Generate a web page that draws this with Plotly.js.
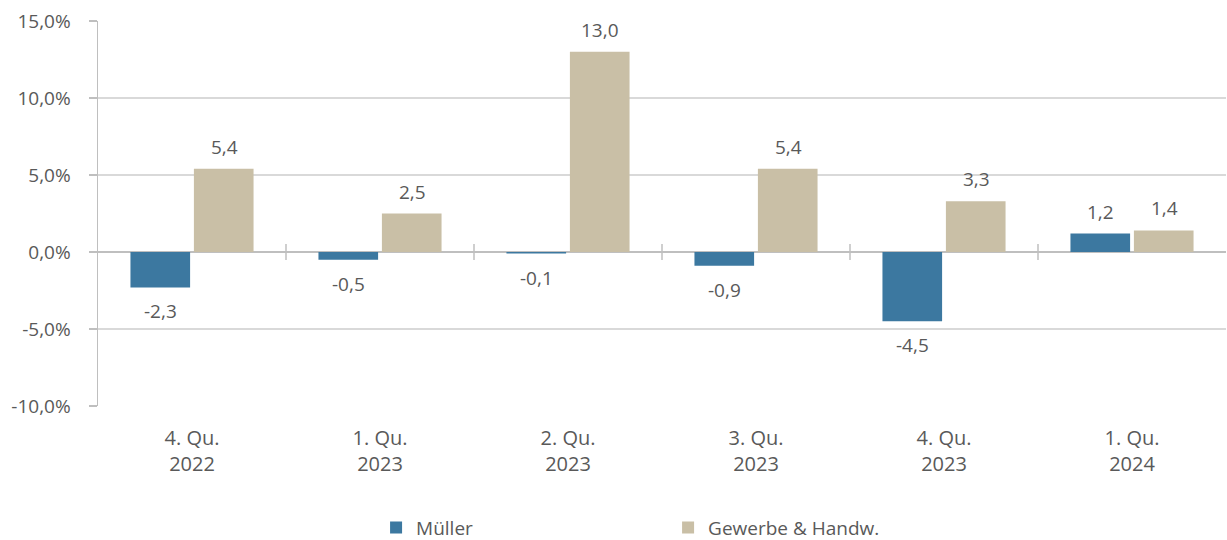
<!DOCTYPE html>
<html><head><meta charset="utf-8">
<script src="https://cdn.plot.ly/plotly-3.0.1.min.js"></script>
<style>body{margin:0;background:#fff}#c{width:1227px;height:540px}</style>
</head><body><div id="c"></div>
<script>
const categories = ["4. Qu.<br>2022","1. Qu.<br>2023","2. Qu.<br>2023","3. Qu.<br>2023","4. Qu.<br>2023","1. Qu.<br>2024"];
const muellerValues = [-2.3, -0.5, -0.1, -0.9, -4.5, 1.2];
const gewerbeValues = [5.4, 2.5, 13.0, 5.4, 3.3, 1.4];
const seriesNames = ["Müller", "Gewerbe & Handw."];
const yTicks = [-10, -5, 0, 5, 10, 15];

const fmt = v => v.toFixed(1).replace('.', ',');
const font = "'Open Sans', sans-serif";
const txtColor = "#595959";

const traces = [
  {type:'bar', name:seriesNames[0], x:categories, y:muellerValues, marker:{color:'#3c78a0'}, hoverinfo:'none'},
  {type:'bar', name:seriesNames[1], x:categories, y:gewerbeValues, marker:{color:'#c9bfa6'}, hoverinfo:'none'}
];

const annotations = [];
[muellerValues, gewerbeValues].forEach((vals, s) => {
  vals.forEach((v, i) => {
    annotations.push({
      x: categories[i], y: v, xref:'x', yref:'y', text: fmt(v), showarrow:false,
      xshift: s === 0 ? -32 : 32,
      yanchor: v >= 0 ? 'bottom' : 'top',
      yshift: v >= 0 ? 7 : -9,
      font:{family:font, size:19, color:txtColor}
    });
  });
});

const shapes = [];
for (let i = 0; i < categories.length - 1; i++) {
  shapes.push({type:'line', xref:'x', yref:'y', x0:i+0.5, x1:i+0.5, ysizemode:'pixel', yanchor:0, y0:-8, y1:8, line:{color:'#bfbfbf', width:1.5}});
}

const layout = {
  width:1227, height:540,
  margin:{l:98, r:1, t:21, b:134},
  paper_bgcolor:'#fff', plot_bgcolor:'#fff',
  separators:',.',
  barmode:'group', bargap:0.325, bargroupgap:0.06,
  font:{family:font, color:txtColor, size:19},
  xaxis:{type:'category', range:[-0.5,5.5], showgrid:false, zeroline:false, showline:false, ticks:'', automargin:false,
         ticklabelstandoff:18, tickfont:{size:20, color:txtColor}},
  yaxis:{range:[-10,15], tickvals:yTicks, ticktext:yTicks.map(v => fmt(v) + '%'), showgrid:true, gridcolor:'#d9d9d9', gridwidth:1.5,
         zeroline:true, zerolinecolor:'#bfbfbf', zerolinewidth:2, showline:true, linecolor:'#bfbfbf', linewidth:1.5, automargin:false,
         ticks:'outside', ticklen:8, tickcolor:'#bfbfbf', tickwidth:1.5, ticklabelstandoff:14, tickfont:{size:19, color:txtColor}},
  legend:{orientation:'h', xref:'container', yref:'container', x:0.3065, xanchor:'left', y:0.058, yanchor:'top',
          entrywidth:247, entrywidthmode:'pixels', font:{size:19, color:txtColor}, itemwidth:30},
  annotations, shapes,
  showlegend:true
};

Plotly.newPlot('c', traces, layout, {displayModeBar:false, staticPlot:true});
</script></body></html>
